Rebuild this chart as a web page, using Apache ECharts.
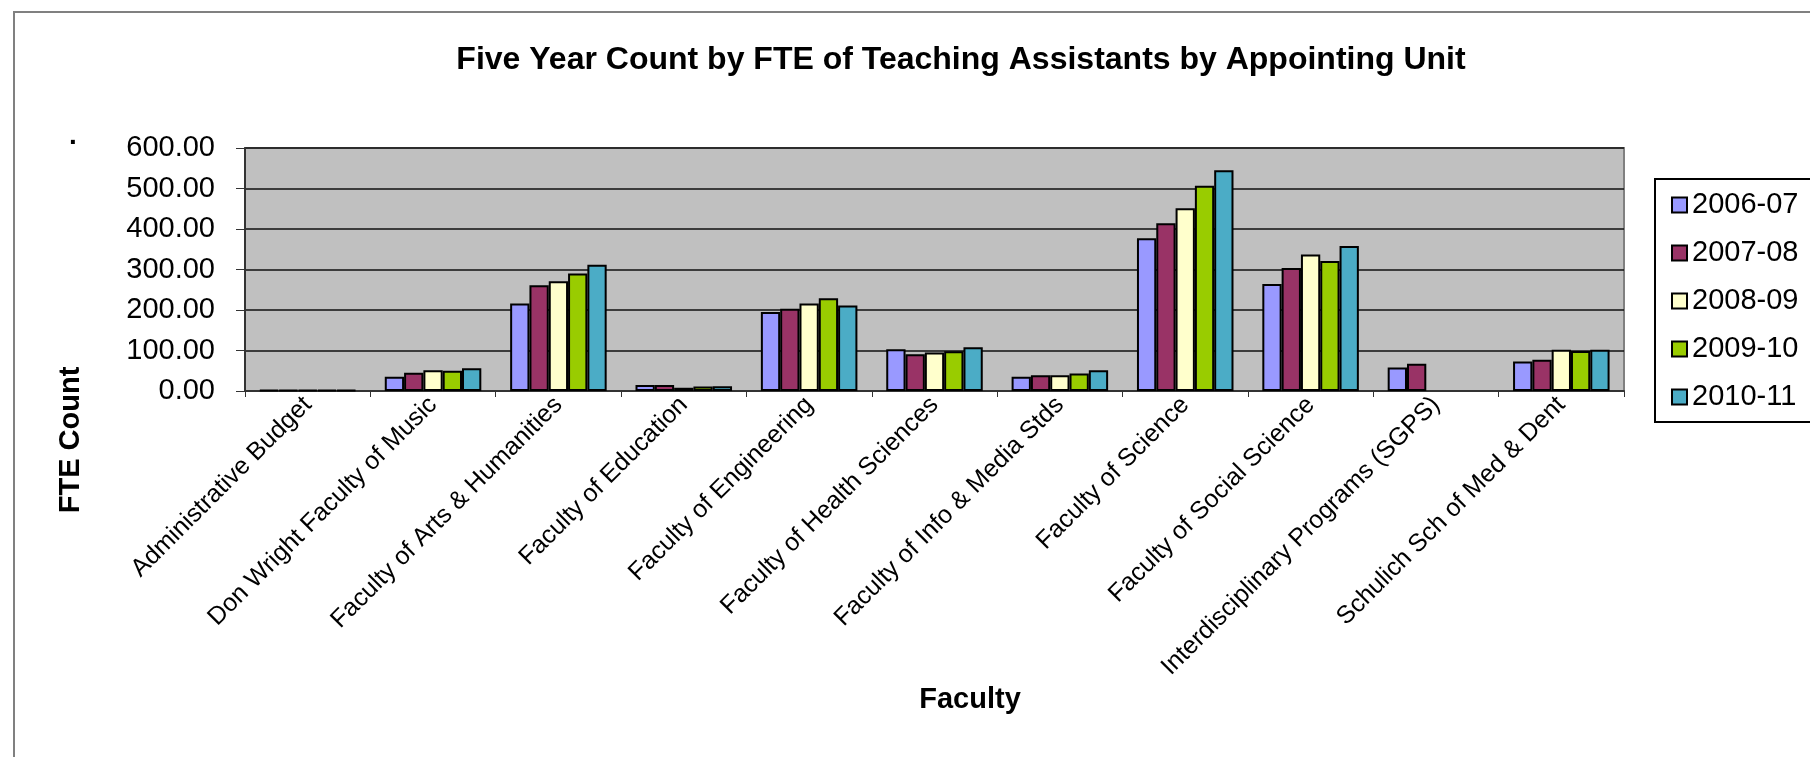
<!DOCTYPE html>
<html>
<head>
<meta charset="utf-8">
<script src="https://cdn.jsdelivr.net/npm/echarts@6/dist/echarts.min.js"></script>
<style>
  html, body { margin: 0; padding: 0; background: #fff; }
  #chart { width: 1810px; height: 757px; }
</style>
</head>
<body>
<div id="chart"></div>
<script>
// faculties on the x axis
var categories = [
  "Administrative Budget",
  "Don Wright Faculty of Music",
  "Faculty of Arts & Humanities",
  "Faculty of Education",
  "Faculty of Engineering",
  "Faculty of Health Sciences",
  "Faculty of Info & Media Stds",
  "Faculty of Science",
  "Faculty of Social Science",
  "Interdisciplinary Programs (SGPS)",
  "Schulich Sch of Med & Dent"
];
var years = ["2006-07", "2007-08", "2008-09", "2009-10", "2010-11"];

// FTE counts per year
var fte2006 = [2, 35, 216, 15, 195, 103, 35, 377, 264, 58, 73];
var fte2007 = [2, 45, 261, 15, 203, 91, 39, 414, 304, 67, 77];
var fte2008 = [2, 51, 271, 8, 216, 95, 39, 451, 337, null, 102];
var fte2009 = [2, 50, 290, 11, 229, 98, 43, 507, 321, null, 99];
var fte2010 = [2, 56, 312, 12, 211, 108, 51, 545, 358, null, 102];

var yTicks = [0, 100, 200, 300, 400, 500, 600];

var COLORS = ["#9999FF", "#993366", "#FFFFCC", "#99CC00", "#4BACC6"];
var FONT = "'Liberation Sans', Arial, sans-serif";

var chart = echarts.init(document.getElementById("chart"));

function makeSeries(name, data, color) {
  return {
    name: name,
    type: "bar",
    data: data,
    barGap: "0%",
    barCategoryGap: "23%",
    itemStyle: {
      color: color,
      borderColor: "#000",
      borderWidth: 2
    }
  };
}

var option = {
  backgroundColor: "#fff",
  animation: false,
  textStyle: { fontFamily: FONT, color: "#000" },
  grid: {
    left: 245,
    right: 186,
    top: 148,
    bottom: 366,
    show: true,
    backgroundColor: "#C0C0C0",
    borderColor: "#808080",
    borderWidth: 2
  },
  legend: {
    orient: "vertical",
    left: 1666,
    top: 185,
    icon: "rect",
    itemWidth: 15,
    itemHeight: 15,
    itemGap: 18,
    data: years,
    textStyle: { fontSize: 29, lineHeight: 30, color: "#000", fontFamily: FONT }
  },
  xAxis: {
    type: "category",
    data: categories,
    axisLine: { lineStyle: { color: "#333", width: 2 } },
    axisTick: { show: true, length: 6, lineStyle: { color: "#333" } },
    axisLabel: {
      interval: 0,
      rotate: 45,
      margin: 10,
      fontSize: 25,
      color: "#000",
      fontFamily: FONT
    },
    splitLine: { show: false }
  },
  yAxis: {
    type: "value",
    min: yTicks[0],
    max: yTicks[yTicks.length - 1],
    interval: 100,
    axisLine: { show: true, lineStyle: { color: "#333", width: 2 } },
    axisTick: { show: true, length: 9, lineStyle: { color: "#333" } },
    axisLabel: {
      margin: 30,
      fontSize: 29,
      color: "#000",
      fontFamily: FONT,
      formatter: function (v) { return v.toFixed(2); }
    },
    splitLine: { show: true, lineStyle: { color: "#111", width: 1.5 } }
  },
  graphic: [
    // chart area border
    {
      type: "rect",
      shape: { x: 14, y: 12, width: 1900, height: 900 },
      style: { fill: "none", stroke: "#808080", lineWidth: 2 },
      silent: true
    },
    // legend box
    {
      type: "rect",
      shape: { x: 1655, y: 179, width: 200, height: 243 },
      style: { fill: "none", stroke: "#000", lineWidth: 2 },
      silent: true
    },
    {
      type: "text",
      x: 961,
      y: 60,
      style: {
        text: "Five Year Count by FTE of Teaching Assistants by Appointing Unit",
        fontSize: 32,
        fontWeight: "bold",
        fontFamily: FONT,
        fill: "#000",
        align: "center",
        verticalAlign: "middle"
      }
    },
    {
      type: "text",
      x: 71,
      y: 440,
      rotation: Math.PI / 2,
      style: {
        text: "FTE Count",
        fontSize: 29,
        fontWeight: "bold",
        fontFamily: FONT,
        fill: "#000",
        align: "center",
        verticalAlign: "middle"
      }
    },
    {
      type: "text",
      x: 970,
      y: 700,
      style: {
        text: "Faculty",
        fontSize: 29,
        fontWeight: "bold",
        fontFamily: FONT,
        fill: "#000",
        align: "center",
        verticalAlign: "middle"
      }
    },
    {
      type: "text",
      x: 73,
      y: 136,
      style: {
        text: ".",
        fontSize: 28,
        fontWeight: "bold",
        fontFamily: FONT,
        fill: "#000",
        align: "center",
        verticalAlign: "middle"
      }
    }
  ],
  series: [
    makeSeries(years[0], fte2006, COLORS[0]),
    makeSeries(years[1], fte2007, COLORS[1]),
    makeSeries(years[2], fte2008, COLORS[2]),
    makeSeries(years[3], fte2009, COLORS[3]),
    makeSeries(years[4], fte2010, COLORS[4])
  ]
};

chart.setOption(option);
window.addEventListener("resize", function () {
  chart.resize();
});
</script>
</body>
</html>
